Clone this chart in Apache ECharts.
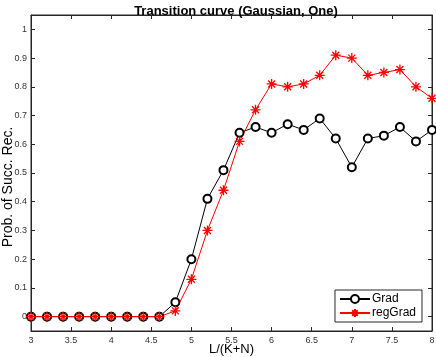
<!DOCTYPE html>
<html>
<head>
    <meta charset="UTF-8">
    <title>Transition curve</title>
    <script src="https://cdn.jsdelivr.net/npm/echarts@6/dist/echarts.min.js"></script>
</head>
<body style="margin:0">
<div id="chart" style="width:436px; height:357px;"></div>
<script>
    // values
    var xs = [3, 3.2, 3.4, 3.6, 3.8, 4, 4.2, 4.4, 4.6, 4.8, 5, 5.2, 5.4, 5.6, 5.8,
              6, 6.2, 6.4, 6.6, 6.8, 7, 7.2, 7.4, 7.6, 7.8, 8];
    var grad = [0, 0, 0, 0, 0, 0, 0, 0, 0, 0.05, 0.2, 0.41, 0.51, 0.64, 0.66,
                0.64, 0.67, 0.65, 0.69, 0.62, 0.52, 0.62, 0.63, 0.66, 0.61, 0.65];
    var regGrad = [0, 0, 0, 0, 0, 0, 0, 0, 0, 0.02, 0.13, 0.30, 0.44, 0.61, 0.72,
                   0.81, 0.80, 0.81, 0.84, 0.91, 0.90, 0.84, 0.85, 0.86, 0.80, 0.76];
    var yTicks = [0, 0.1, 0.2, 0.3, 0.4, 0.5, 0.6, 0.7, 0.8, 0.9, 1];

    function pairs(ys) {
        return xs.map(function (x, i) { return [x, ys[i]]; });
    }

    var frame = '#262626';
    var asterisk = 'path://M0,5L10,5M5,0L5,10M1.5,1.5L8.5,8.5M8.5,1.5L1.5,8.5';

    var chart = echarts.init(document.getElementById('chart'), null, {renderer: 'canvas'});
    var option = {
        animation: false,
        backgroundColor: '#fff',
        title: {
            text: 'Transition curve (Gaussian, One)',
            left: 231, top: 0, textAlign: 'center',
            textStyle: {fontFamily: 'Liberation Sans', fontSize: 13, fontWeight: 'bold', color: '#000'}
        },
        grid: {left: 31, right: 4, top: 15, bottom: 26, outerBoundsMode: 'none',
               show: true, borderColor: frame, borderWidth: 1},
        legend: {
            orient: 'vertical', right: 14, bottom: 35,
            data: ['Grad', 'regGrad'],
            itemWidth: 30, itemHeight: 10, itemGap: 2,
            padding: [3, 6, 3, 4],
            backgroundColor: '#fff', borderColor: frame, borderWidth: 1, borderRadius: 0,
            textStyle: {fontFamily: 'Liberation Sans', fontSize: 12, color: '#000', padding: [0, 0, 0, -3]}
        },
        xAxis: [{
            type: 'value', min: 3, max: 8, interval: 0.5,
            name: 'L/(K+N)', nameLocation: 'middle', nameGap: 12, nameMoveOverlap: false,
            nameTextStyle: {fontFamily: 'Liberation Sans', fontSize: 13, color: '#000'},
            axisLine: {onZero: false, lineStyle: {color: frame}},
            axisTick: {inside: true, length: 4, lineStyle: {color: frame}},
            axisLabel: {fontFamily: 'Liberation Sans', fontSize: 9, color: '#333', margin: 5},
            splitLine: {show: false}
        }, {
            type: 'value', min: 3, max: 8, interval: 0.5, position: 'top',
            axisLine: {onZero: false, lineStyle: {color: frame}},
            axisTick: {inside: true, length: 4, lineStyle: {color: frame}},
            axisLabel: {show: false}, splitLine: {show: false}
        }],
        yAxis: [{
            type: 'value', min: -0.05, max: 1.05,
            name: 'Prob. of Succ. Rec.', nameLocation: 'middle', nameGap: 16, nameMoveOverlap: false,
            nameTextStyle: {fontFamily: 'Liberation Sans', fontSize: 14, color: '#000', padding: [0, 28, 0, 0]},
            axisLine: {onZero: false, lineStyle: {color: frame}},
            axisTick: {inside: true, length: 4, customValues: yTicks, lineStyle: {color: frame}},
            axisLabel: {fontFamily: 'Liberation Sans', fontSize: 9, color: '#333', margin: 4,
                        customValues: yTicks},
            splitLine: {show: false}
        }, {
            type: 'value', min: -0.05, max: 1.05, position: 'right',
            axisLine: {onZero: false, lineStyle: {color: frame}},
            axisTick: {inside: true, length: 4, customValues: yTicks, lineStyle: {color: frame}},
            axisLabel: {show: false}, splitLine: {show: false}
        }],
        series: [{
            name: 'Grad', type: 'line', data: pairs(grad),
            symbol: 'emptyCircle', symbolSize: 8,
            lineStyle: {color: '#000', width: 1},
            itemStyle: {color: '#000', borderColor: '#000', borderWidth: 1}
        }, {
            name: 'regGrad', type: 'line', data: pairs(regGrad),
            symbol: asterisk, symbolSize: 10,
            lineStyle: {color: '#f00', width: 1},
            itemStyle: {color: '#f00', borderColor: '#f00', borderWidth: 1.3}
        }]
    };
    chart.setOption(option);
</script>
</body>
</html>
